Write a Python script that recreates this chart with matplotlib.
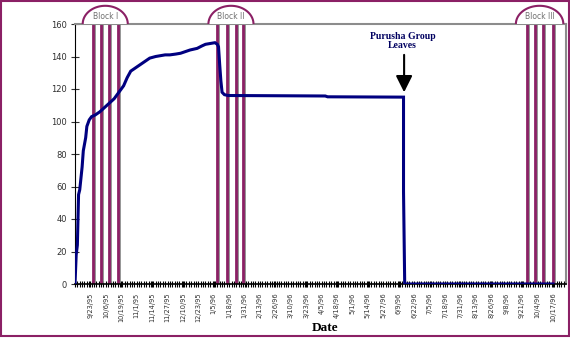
import numpy as np
import pandas as pd
import matplotlib
matplotlib.use('Agg')
import matplotlib.pyplot as plt
from matplotlib.patches import Polygon, Rectangle

# Data
start = pd.Timestamp('1995-09-10')
end = pd.Timestamp('1996-10-28')

dates = ['9/10/95', '9/11/95', '9/12/95', '9/13/95', '9/14/95', '9/16/95', '9/17/95',
         '9/19/95', '9/20/95', '9/22/95', '9/24/95', '9/27/95', '10/1/95', '10/4/95',
         '10/7/95', '10/10/95', '10/13/95', '10/15/95', '10/18/95', '10/21/95',
         '10/24/95', '10/27/95', '10/31/95', '11/4/95', '11/8/95', '11/12/95',
         '11/17/95', '11/21/95', '11/25/95', '11/29/95', '12/4/95', '12/8/95',
         '12/12/95', '12/16/95', '12/19/95', '12/22/95', '12/26/95', '12/29/95',
         '1/2/96', '1/6/96', '1/8/96', '1/9/96', '1/10/96', '1/11/96', '1/12/96',
         '1/14/96', '1/17/96', '4/8/96', '4/10/96', '6/13/96', '6/13/96', '6/14/96',
         '10/17/96']
count = [0, 18, 24, 55, 58, 72, 82,
         90, 97, 101, 103, 104, 106, 108,
         110, 112, 114, 116, 119, 122,
         127, 131, 133, 135, 137, 139,
         140, 140.5, 141, 141, 141.5, 142,
         143, 144, 144.5, 145, 146.5, 147.5,
         148, 148.5, 147.5, 146, 135, 125, 118,
         116.5, 116, 115.7, 115.2, 115, 57, 0,
         0]

blocks = {
    'Block I': ['9/25/95', '10/2/95', '10/9/95', '10/16/95'],
    'Block II': ['1/8/96', '1/16/96', '1/24/96', '1/30/96'],
    'Block III': ['9/25/96', '10/2/96', '10/9/96', '10/17/96'],
}

tick_labels = ['9/23/95', '10/6/95', '10/19/95', '11/1/95', '11/14/95', '11/27/95',
               '12/10/95', '12/23/95', '1/5/96', '1/18/96', '1/31/96', '2/13/96',
               '2/26/96', '3/10/96', '3/23/96', '4/5/96', '4/18/96', '5/1/96',
               '5/14/96', '5/27/96', '6/9/96', '6/22/96', '7/5/96', '7/18/96',
               '7/31/96', '8/13/96', '8/26/96', '9/8/96', '9/21/96', '10/4/96',
               '10/17/96']

leave_date = '6/13/96'


def days(s):
    return (pd.to_datetime(s, format='%m/%d/%y') - start).days


x = np.array([days(d) for d in dates])
ticks = [days(d) for d in tick_labels]
xmax = (end - start).days

purple = '#8B2065'
gray = '#8C8C8C'
navy = '#000080'

fig = plt.figure(figsize=(5.7, 3.4), dpi=100)
ax = fig.add_axes([75 / 570, 1 - 284 / 340, 491 / 570, 260 / 340])

# block lines
for name, bd in blocks.items():
    bx = [days(d) for d in bd]
    for i, b in enumerate(bx):
        ax.plot([b + 0.7, b + 0.7], [0, 160], color=gray, lw=2.0, zorder=2,
                solid_capstyle='butt')
        ax.plot([b, b], [0, 160], color=purple, lw=2.0, zorder=2,
                solid_capstyle='butt')
    c = np.mean(bx)
    half = 19 if name != 'Block III' else 20
    t = np.linspace(0, np.pi, 60)
    poly = Polygon(np.column_stack([c + half * np.cos(t), 1 + 0.07 * np.sin(t)]),
                   closed=False, facecolor='white', edgecolor=purple, lw=1.5,
                   transform=ax.get_xaxis_transform(), clip_on=False, zorder=5)
    ax.add_patch(poly)
    ax.text(c, 1.028, name, transform=ax.get_xaxis_transform(), ha='center',
            va='center', fontsize=5.5, color='#707070', zorder=6, clip_on=False)

ax.plot(x, count, color=navy, lw=2.2, zorder=4, solid_joinstyle='miter')

# annotation
lx = days(leave_date)
ax.annotate('', xy=(lx + 0.5, 118), xytext=(lx + 0.5, 141),
            arrowprops=dict(arrowstyle='-|>,head_length=1.0,head_width=0.5',
                            color='black', lw=1.5, shrinkA=0, shrinkB=0))
ax.text(lx - 1, 149.5, 'Purusha Group\nLeaves', ha='center', va='center',
        fontsize=7, fontweight='bold', color='#000060',
        family='Liberation Serif', linespacing=1.05)

ax.set_xlim(0, xmax)
ax.set_ylim(0, 160)
ax.set_yticks(np.arange(0, 161, 20))
ax.set_xticks(ticks)
ax.set_xticklabels(tick_labels, rotation=90, fontsize=4.8, color='#303030')
ax.set_xticks(np.arange(0, xmax, 2), minor=True)
ax.tick_params(axis='x', which='both', direction='inout', length=4, width=0.8,
               pad=4)
ax.tick_params(axis='y', direction='inout', length=6, width=0.8, labelsize=6,
               colors='#303030', pad=3)

for s in ['top', 'right']:
    ax.spines[s].set_color(gray)
    ax.spines[s].set_linewidth(1.5)
ax.spines['left'].set_color('black')
ax.spines['bottom'].set_color('black')
ax.spines['bottom'].set_linewidth(1.2)

fig.text(325 / 570, 1 - 328 / 340, 'Date', ha='center', va='center',
         fontsize=9.5, fontweight='bold', family='Liberation Serif')

fig.patches.append(Rectangle((0.5 / 570, 1 - 336 / 340), 568 / 570, 335 / 340,
                             transform=fig.transFigure, fill=False,
                             edgecolor=purple, lw=1.5))

fig.savefig('out.png', dpi=100)
